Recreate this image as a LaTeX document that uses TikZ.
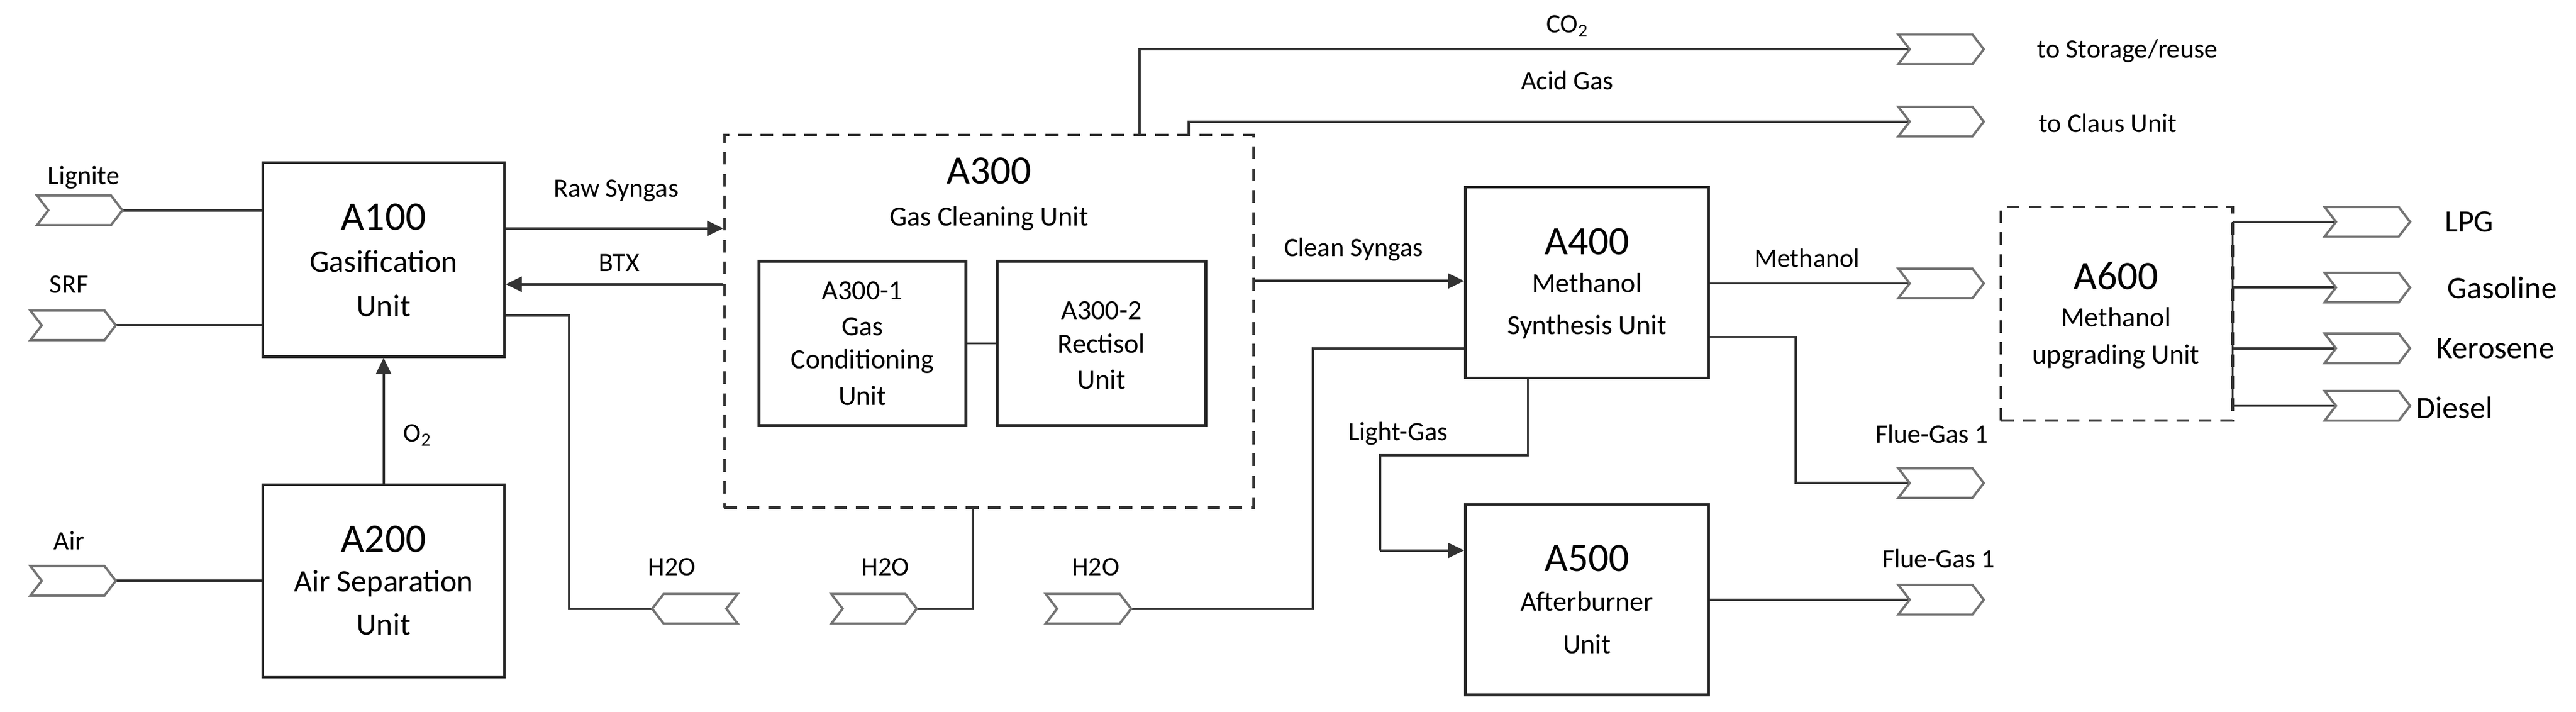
\documentclass[tikz,border=0pt]{standalone}
\usepackage{fontspec}
\setmainfont{Carlito}
\usetikzlibrary{shapes.symbols,arrows.meta,backgrounds}
\begin{document}
\begin{tikzpicture}[x=0.05cm,y=-0.05cm,
  box/.style={draw=black!85,line width=2.3pt,inner sep=0pt},
  dbox/.style={draw=black!80,line width=2.2pt,dash pattern=on 11pt off 8pt,inner sep=0pt},
  chev/.style={signal,signal from=west,signal to=east,signal pointer angle=105,draw=black!55,fill=white,line width=2pt,minimum width=2.6cm,minimum height=0.9cm,inner sep=0pt},
  chevl/.style={chev,signal from=east,signal to=west},
  ln/.style={draw=black!80,line width=2pt},
  arr/.style={ln,-{Triangle[length=14pt,width=13pt]}},
  lbl/.style={font=\fontsize{23}{25}\selectfont,inner sep=1pt},
  ttl/.style={font=\fontsize{35}{37}\selectfont,inner sep=0pt},
  sub/.style={font=\fontsize{27}{29}\selectfont,inner sep=0pt},
  sub2/.style={font=\fontsize{24}{26}\selectfont,inner sep=0pt}]
\useasboundingbox (0,0) rectangle (1568,433);
% boxes
\node[box,minimum width=7.35cm,minimum height=5.9cm] (A100) at (233.5,158) {};
\node[box,minimum width=7.35cm,minimum height=5.85cm] (A200) at (233.5,353.5) {};
\node[dbox,minimum width=16.1cm,minimum height=11.35cm] (A300) at (602,195.5) {};
\node[box,minimum width=6.3cm,minimum height=5cm] (A3001) at (525,209) {};
\node[box,minimum width=6.35cm,minimum height=5cm] (A3002) at (670.5,209) {};
\node[box,minimum width=7.4cm,minimum height=5.8cm] (A400) at (966,172) {};
\node[box,minimum width=7.4cm,minimum height=5.8cm] (A500) at (966,365) {};
\node[dbox,minimum width=7.05cm,minimum height=6.5cm] (A600) at (1288.5,191) {};
% box texts
\node[ttl] (t1a) at (233.5,132) {A100};
\node[sub] (t1b) at (233.5,159) {Gasification};
\node[sub] (t1c) at (233.5,186) {Unit};
\node[ttl] (t2a) at (233.5,328) {A200};
\node[sub] (t2b) at (233.5,355) {Air Separation};
\node[sub] (t2c) at (233.5,380) {Unit};
\node[ttl] (t3a) at (602,104) {A300};
\node[sub2] (t3b) at (602,133) {Gas Cleaning Unit};
\node[sub2] (t31a) at (525,177) {A300-1};
\node[sub2] (t31b) at (525,199) {Gas};
\node[sub2] (t31c) at (525,220) {Conditioning};
\node[sub2] (t31d) at (525,241) {Unit};
\node[sub2] (t32a) at (670.5,189) {A300-2};
\node[sub2] (t32b) at (670.5,209) {Rectisol};
\node[sub2] (t32c) at (670.5,231) {Unit};
\node[ttl] (t4a) at (966,147) {A400};
\node[sub2] (t4b) at (966,172) {Methanol};
\node[sub2] (t4c) at (966,199) {Synthesis Unit};
\node[ttl] (t5a) at (966,340) {A500};
\node[sub2] (t5b) at (966,366) {Afterburner};
\node[sub2] (t5c) at (966,392) {Unit};
\node[ttl] (t6a) at (1288,168) {A600};
\node[sub2] (t6b) at (1288,193) {Methanol};
\node[sub2] (t6c) at (1288,217) {upgrading Unit};
% chevrons
\node[chev] (lig) at (48.5,128) {};
\node[chev] (srf) at (44.5,198) {};
\node[chev] (air) at (44.5,353.5) {};
\node[chevl] (h1) at (423,370.5) {};
\node[chev] (h2) at (532,370.5) {};
\node[chev] (h3) at (662.5,370.5) {};
\node[chev] (co2) at (1181.5,30) {};
\node[chev] (acid) at (1181.5,74) {};
\node[chev] (meth) at (1181.5,172.5) {};
\node[chev] (fg1) at (1181.5,294) {};
\node[chev] (fg2) at (1181.5,365) {};
\node[chev] (lpg) at (1441,135) {};
\node[chev] (gas) at (1441,175) {};
\node[chev] (ker) at (1441,212) {};
\node[chev] (die) at (1441,247) {};
% labels
\node[lbl] (lLig) at (51,108) {Lignite};
\node[lbl] (lSrf) at (42,173) {SRF};
\node[lbl] (lAir) at (42,329) {Air};
\node[lbl] (lRaw) at (375,116) {Raw Syngas};
\node[lbl] (lBtx) at (377,160) {BTX};
\node[lbl] (lO2) at (254,265) {O\textsubscript{2}};
\node[lbl] (lH1) at (409,345) {H2O};
\node[lbl] (lH2) at (539,345) {H2O};
\node[lbl] (lH3) at (667,345) {H2O};
\node[lbl] (lCo2) at (954,16) {CO\textsubscript{2}};
\node[lbl] (lAcid) at (954,49) {Acid Gas};
\node[lbl] (lSto) at (1295,31) {to Storage/reuse};
\node[lbl] (lCla) at (1283,75) {to Claus Unit};
\node[lbl] (lCl) at (824,152) {Clean Syngas};
\node[lbl] (lMe) at (1100,157) {Methanol};
\node[lbl] (lLg) at (851,264) {Light-Gas};
\node[lbl] (lF1) at (1176,264) {Flue-Gas 1};
\node[lbl] (lF2) at (1180,340) {Flue-Gas 1};
\node[font=\fontsize{27}{29}\selectfont,inner sep=1pt] (lLpg) at (1503,135) {LPG};
\node[font=\fontsize{27}{29}\selectfont,inner sep=1pt] (lGas) at (1523,175) {Gasoline};
\node[font=\fontsize{27}{29}\selectfont,inner sep=1pt] (lKer) at (1519,212) {Kerosene};
\node[font=\fontsize{27}{29}\selectfont,inner sep=1pt] (lDie) at (1494,248) {Diesel};
% coordinates
\coordinate (c1) at (346.5,192);
\coordinate (c2) at (346.5,370.5);
\coordinate (c3) at (592,370.5);
\coordinate (c4) at (799,370.5);
\coordinate (c5) at (799,212);
\coordinate (c6) at (693.5,30);
\coordinate (c7) at (723.5,74);
\coordinate (c8) at (1093,205);
\coordinate (c9) at (1093,294);
\coordinate (c10) at (930,277);
\coordinate (c11) at (840,277);
\coordinate (c12) at (840,335);
\coordinate (c13) at (1359,135);
\coordinate (c14) at (1359,247);
\begin{scope}[on background layer]
\fill[white] (0,0) rectangle (1568,433);
\draw[ln] (lig.center) -- (A100.west |- lig.center);
\draw[ln] (srf.center) -- (A100.west |- srf.center);
\draw[ln] (air.center) -- (A200.west |- air.center);
\draw[arr] (A200.north) -- (A100.south);
\draw[arr] (A100.east |- 0,139) -- (A300.west |- 0,139);
\draw[arr] (A300.west |- 0,173) -- (A100.east |- 0,173);
\draw[ln] (A100.east |- c1) -- (c1) -- (c2) -- (h1.center);
\draw[ln] (h2.center) -- (c3) -- (A300.south -| c3);
\draw[ln] (h3.center) -- (c4) -- (c5) -- (A400.west |- c5);
\draw[ln] (A3001.east) -- (A3002.west);
\draw[ln] (A300.north -| c6) -- (c6) -- (co2.center);
\draw[ln] (A300.north -| c7) -- (c7) -- (acid.center);
\draw[arr] (A300.east |- 0,171) -- (A400.west |- 0,171);
\draw[ln] (A400.east |- meth.center) -- (meth.center);
\draw[ln] (A400.east |- c8) -- (c8) -- (c9) -- (fg1.center);
\draw[ln] (A400.south -| c10) -- (c10) -- (c11) -- (c12);
\draw[arr] (c12) -- (A500.west |- c12);
\draw[ln] (A500.east |- fg2.center) -- (fg2.center);
\draw[ln] (c13) -- (c14);
\draw[ln] (c13) -- (lpg.center);
\draw[ln] (c13 |- gas.center) -- (gas.center);
\draw[ln] (c13 |- ker.center) -- (ker.center);
\draw[ln] (c14) -- (die.center);
\end{scope}
\end{tikzpicture}
\end{document}
